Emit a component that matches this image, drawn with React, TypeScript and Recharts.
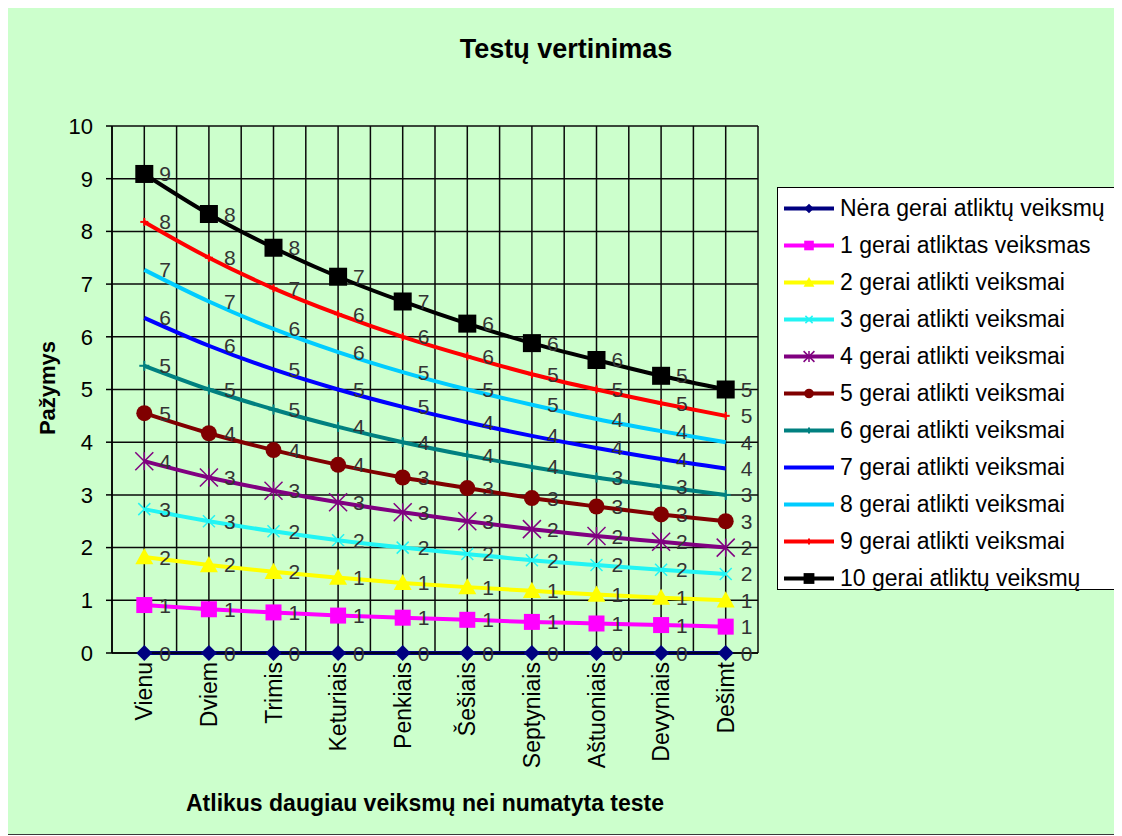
import type { ReactElement } from 'react'
import { LineChart, Line, XAxis, YAxis, CartesianGrid, LabelList } from 'recharts'

const FONT = "Arial, 'Liberation Sans', sans-serif"

const categories = ['Vienu', 'Dviem', 'Trimis', 'Keturiais', 'Penkiais', 'Šešiais', 'Septyniais', 'Aštuoniais', 'Devyniais', 'Dešimt']
const xTicks = [0.5, 1, 1.5, 2, 2.5, 3, 3.5, 4, 4.5, 5, 5.5, 6, 6.5, 7, 7.5, 8, 8.5, 9, 9.5, 10, 10.5]
const yTicks = [0, 1, 2, 3, 4, 5, 6, 7, 8, 9, 10]

const s0 = [0, 0, 0, 0, 0, 0, 0, 0, 0, 0]
const s1 = [0.91, 0.83, 0.77, 0.71, 0.67, 0.63, 0.59, 0.56, 0.53, 0.5]
const s2 = [1.82, 1.67, 1.54, 1.43, 1.33, 1.25, 1.18, 1.11, 1.05, 1.0]
const s3 = [2.73, 2.5, 2.31, 2.14, 2.0, 1.88, 1.76, 1.67, 1.58, 1.5]
const s4 = [3.64, 3.33, 3.08, 2.86, 2.67, 2.5, 2.35, 2.22, 2.11, 2.0]
const s5 = [4.55, 4.17, 3.85, 3.57, 3.33, 3.13, 2.94, 2.78, 2.63, 2.5]
const s6 = [5.45, 5.0, 4.62, 4.29, 4.0, 3.75, 3.53, 3.33, 3.16, 3.0]
const s7 = [6.36, 5.83, 5.38, 5.0, 4.67, 4.38, 4.12, 3.89, 3.68, 3.5]
const s8 = [7.27, 6.67, 6.15, 5.71, 5.33, 5.0, 4.71, 4.44, 4.21, 4.0]
const s9 = [8.18, 7.5, 6.92, 6.43, 6.0, 5.63, 5.29, 5.0, 4.74, 4.5]
const s10 = [9.09, 8.33, 7.69, 7.14, 6.67, 6.25, 5.88, 5.56, 5.26, 5.0]

const seriesNames = [
  'Nėra gerai atliktų veiksmų',
  '1 gerai atliktas veiksmas',
  '2 gerai atlikti veiksmai',
  '3 gerai atlikti veiksmai',
  '4 gerai atlikti veiksmai',
  '5 gerai atlikti veiksmai',
  '6 gerai atlikti veiksmai',
  '7 gerai atlikti veiksmai',
  '8 gerai atlikti veiksmai',
  '9 gerai atlikti veiksmai',
  '10 gerai atliktų veiksmų',
]
const seriesValues = [s0, s1, s2, s3, s4, s5, s6, s7, s8, s9, s10]

type Shape = 'diamond' | 'square' | 'triangle' | 'x' | 'star' | 'circle' | 'plus' | 'none'

const styles: { color: string; shape: Shape; r: number }[] = [
  { color: '#000080', shape: 'diamond', r: 8 },
  { color: '#ff00ff', shape: 'square', r: 8 },
  { color: '#ffff00', shape: 'triangle', r: 9 },
  { color: '#22f4f4', shape: 'x', r: 6 },
  { color: '#800080', shape: 'star', r: 9 },
  { color: '#800000', shape: 'circle', r: 8 },
  { color: '#008080', shape: 'plus', r: 5 },
  { color: '#0000ff', shape: 'none', r: 0 },
  { color: '#00ccff', shape: 'none', r: 0 },
  { color: '#ff0000', shape: 'plus', r: 4 },
  { color: '#000000', shape: 'square', r: 9 },
]

const rows = categories.map((name, i) => {
  const row: Record<string, number | string> = { x: i + 1, name }
  seriesValues.forEach((vals, k) => { row['s' + k] = vals[i] })
  return row
})

function marker(shape: Shape, color: string, r: number, cx: number, cy: number, key?: string): ReactElement | null {
  switch (shape) {
    case 'diamond':
      return <polygon key={key} points={`${cx},${cy - r} ${cx + r},${cy} ${cx},${cy + r} ${cx - r},${cy}`} fill={color} />
    case 'square':
      return <rect key={key} x={cx - r} y={cy - r} width={2 * r} height={2 * r} fill={color} />
    case 'triangle':
      return <polygon key={key} points={`${cx},${cy - r} ${cx + r},${cy + r * 0.8} ${cx - r},${cy + r * 0.8}`} fill={color} />
    case 'circle':
      return <circle key={key} cx={cx} cy={cy} r={r} fill={color} />
    case 'x':
      return (
        <g key={key} stroke={color} strokeWidth={1.5}>
          <line x1={cx - r} y1={cy - r} x2={cx + r} y2={cy + r} />
          <line x1={cx - r} y1={cy + r} x2={cx + r} y2={cy - r} />
        </g>
      )
    case 'star':
      return (
        <g key={key} stroke={color} strokeWidth={1.5}>
          <line x1={cx - r} y1={cy - r} x2={cx + r} y2={cy + r} />
          <line x1={cx - r} y1={cy + r} x2={cx + r} y2={cy - r} />
          <line x1={cx} y1={cy - r} x2={cx} y2={cy + r} />
        </g>
      )
    case 'plus':
      return (
        <g key={key} stroke={color} strokeWidth={2}>
          <line x1={cx - r} y1={cy} x2={cx + r} y2={cy} />
          <line x1={cx} y1={cy - r} x2={cx} y2={cy + r} />
        </g>
      )
    default:
      return null
  }
}

const XTick = (props: any) => {
  const { x, y, payload } = props
  const v = payload.value
  if (!Number.isInteger(v)) return <g />
  const ty = y + 1
  return (
    <text x={x} y={ty} transform={`rotate(-90 ${x} ${ty})`} textAnchor="end" dominantBaseline="central"
      fontSize={23} fontFamily={FONT} fill="#000">
      {categories[v - 1]}
    </text>
  )
}

const ValueLabel = (props: any) => {
  const { x, y, value } = props
  return (
    <text x={x + 15} y={y} dominantBaseline="central" fontSize={21} fontFamily={FONT} fill="#333">
      {Math.round(Number(value))}
    </text>
  )
}

export default function App() {
  return (
    <div style={{
      position: 'relative',
      width: 1112,
      height: 826,
      margin: '-1px 0 0 -1px',
      border: '1px solid #3a3a3a',
      background: '#ccffcc',
      fontFamily: FONT,
    }}>
      <div style={{ position: 'absolute', left: 0, width: 1116, top: 26, textAlign: 'center', fontSize: 27, fontWeight: 700, lineHeight: '30px', color: '#000' }}>
        Testų vertinimas
      </div>
      <div style={{ position: 'absolute', left: 40, top: 380, width: 0, height: 0 }}>
        <div style={{ position: 'absolute', transform: 'translate(-50%, -50%) rotate(-90deg)', fontSize: 22, fontWeight: 700, whiteSpace: 'nowrap' }}>
          Pažymys
        </div>
      </div>
      <div style={{ position: 'absolute', left: 417, top: 795, width: 0, height: 0 }}>
        <div style={{ position: 'absolute', transform: 'translate(-50%, -50%)', fontSize: 23, fontWeight: 700, whiteSpace: 'nowrap' }}>
          Atlikus daugiau veiksmų nei numatyta teste
        </div>
      </div>

      <LineChart width={1112} height={826} data={rows} margin={{ top: 118, right: 362, left: 0, bottom: 0 }}>
        <CartesianGrid stroke="#0a0a0a" strokeWidth={1.5} />
        <XAxis type="number" dataKey="x" domain={[0.5, 10.5]} ticks={xTicks} interval={0} height={181}
          tick={<XTick />} tickLine={false} tickSize={6} tickMargin={2} axisLine={{ stroke: '#000', strokeWidth: 1.5 }} />
        <YAxis type="number" domain={[0, 10]} ticks={yTicks} interval={0} width={104}
          tick={{ fontSize: 22, fontFamily: FONT, fill: '#000' }} tickSize={6} tickMargin={13}
          tickLine={{ stroke: '#000', strokeWidth: 1.5 }} axisLine={{ stroke: '#000', strokeWidth: 1.5 }} />
        {styles.map((st, k) => (
          <Line key={k} type="monotone" dataKey={'s' + k} name={seriesNames[k]} stroke={st.color} strokeWidth={4}
            isAnimationActive={false}
            dot={st.shape === 'none' ? false : (p: any) => marker(st.shape, st.color, st.r, p.cx, p.cy, `d${k}-${p.index}`) ?? <g key={`d${k}-${p.index}`} />}
            activeDot={false}>
            <LabelList dataKey={'s' + k} content={<ValueLabel />} />
          </Line>
        ))}
      </LineChart>

      <div style={{
        position: 'absolute', left: 769, top: 179, width: 337, height: 401,
        border: '1px solid #000', background: '#ffffff',
      }}>
        {seriesNames.map((n, k) => (
          <div key={k} style={{ position: 'absolute', left: 0, top: 2 + k * 37, height: 37, display: 'flex', alignItems: 'center', whiteSpace: 'nowrap' }}>
            <svg width={62} height={37}>
              <line x1={6} y1={18.5} x2={56} y2={18.5} stroke={styles[k].color} strokeWidth={4} />
              {marker(styles[k].shape, styles[k].color, Math.max(3, styles[k].r * 0.6), 31, 18.5)}
            </svg>
            <span style={{ fontSize: 23, color: '#000', lineHeight: '37px' }}>{n}</span>
          </div>
        ))}
      </div>
    </div>
  )
}
